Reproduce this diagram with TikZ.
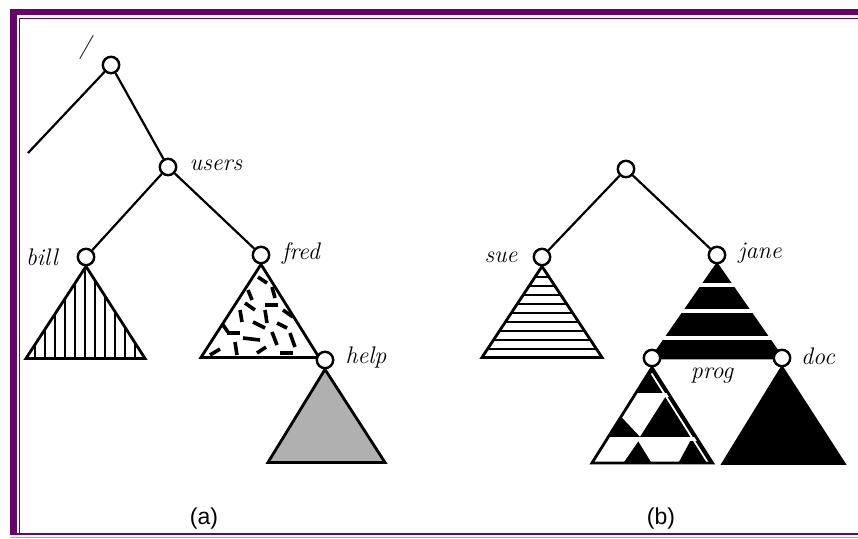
\documentclass[tikz,border=0pt]{standalone}
\usepackage{fontspec}
\newfontfamily\capfont{Liberation Sans}
\usetikzlibrary{backgrounds,calc}
\definecolor{framepurple}{RGB}{102,4,104}
\definecolor{helpgray}{RGB}{176,176,176}
\tikzset{
  % --- directory nodes and labels ---------------------------------------
  dirnode/.style ={circle, draw, fill=white, line width=1.2pt,
                   minimum size=8.2pt, inner sep=0},
  dirlab/.style  ={font=\large\itshape, inner sep=0},
  caption/.style ={font=\capfont\fontsize{11.5}{13}\selectfont, inner sep=0},
  % --- tree lines and subtrees -----------------------------------------
  link/.style    ={line width=1.1pt},
  tri/.style     ={draw, line width=1.4pt, line join=miter},
  stripe/.style  ={line width=0.9pt},
  flake/.style   ={line width=1.8pt},
  gap/.style     ={white, line width=2pt},
}

\begin{document}
\begin{tikzpicture}[x=0.5pt, y=-0.5pt]
  \useasboundingbox (0,0) rectangle (858,538);

  % ============================ frame ============================
  \fill[framepurple] (10,9) rectangle (858,15);
  \fill[framepurple] (10,9) rectangle (17,535);
  \draw[framepurple, line width=0.75pt] (19.5,533) -- (19.5,18.5) -- (858,18.5);
  \draw[framepurple, line width=1.3pt] (10,534) -- (858,534);
  \draw[framepurple!40, line width=0.5pt] (10,537.5) -- (858,537.5);

  % ============================ (a) ============================
  \node[dirnode] (root)  at (111,65)  {};
  \node[dirnode] (users) at (168,167) {};
  \node[dirnode] (bill)  at (86,257)  {};
  \node[dirnode] (fred)  at (261,255) {};
  \node[dirnode] (help)  at (325,360) {};
  \coordinate (cut) at (28,153);

  \node[dirlab] (root-l)  at (85,47)   {/};
  \node[dirlab] (users-l) at (216,165) {users};
  \node[dirlab] (bill-l)  at (42,257)  {bill};
  \node[dirlab] (fred-l)  at (301,253) {fred};
  \node[dirlab] (help-l)  at (366,357) {help};
  \node[caption] (cap-a) at (204,519) {(a)};

  \begin{scope}[on background layer]
    \draw[link] (root) -- (cut);
    \draw[link] (root) -- (users);
    \draw[link] (users) -- (bill);
    \draw[link] (users) -- (fred);

    % bill: vertical hatching
    \begin{scope}
      \clip (bill.south) -- ++(-60,92) -- ++(119,0) -- cycle;
      \foreach \x in {35,45,...,135}
        \draw[stripe] (\x,250) -- (\x,360);
    \end{scope}
    \draw[tri] (bill.south) -- ++(-60,92) -- ++(119,0) -- cycle;

    % fred: scattered dashes
    \begin{scope}
      \clip (fred.south) -- ++(-60,93) -- ++(118,0) -- cycle;
      \foreach \xa/\ya/\xb/\yb in {258/277/267/283, 248/290/252/300,
          272/287/275/298, 245/303/255/310, 265/305/278/305,
          240/310/242/322, 265/310/267/323, 283/310/293/317,
          253/322/265/328, 277/323/287/328, 223/325/228/332,
          227/333/240/333, 243/338/260/340, 272/332/277/345,
          290/333/295/347, 235/342/237/355, 210/355/220/349,
          257/353/266/347, 280/353/293/353}
        \draw[flake] (\xa,\ya) -- (\xb,\yb);
    \end{scope}
    \draw[tri] (fred.south) -- ++(-60,93) -- ++(118,0) -- cycle;

    % help: grey
    \draw[tri, fill=helpgray] (help.south) -- ++(-57,93) -- ++(117,0) -- cycle;
  \end{scope}

  % ============================ (b) ============================
  \node[dirnode] (rootb) at (626,169) {};
  \node[dirnode] (sue)   at (542,257) {};
  \node[dirnode] (jane)  at (717,255) {};
  \node[dirnode] (prog)  at (652,358) {};
  \node[dirnode] (doc)   at (782,358) {};

  \node[dirlab] (sue-l)  at (501,257) {sue};
  \node[dirlab] (jane-l) at (760,253) {jane};
  \node[dirlab] (prog-l) at (712,376) {prog};
  \node[dirlab] (doc-l)  at (818,356) {doc};
  \node[caption] (cap-b) at (661,519) {(b)};

  \begin{scope}[on background layer]
    \draw[link] (rootb) -- (sue);
    \draw[link] (rootb) -- (jane);

    % sue: horizontal hatching
    \begin{scope}
      \clip (sue.south) -- ++(-60,91) -- ++(120,0) -- cycle;
      \foreach \y in {268,277,...,349}
        \draw[stripe] (470,\y) -- (620,\y);
    \end{scope}
    \draw[tri] (sue.south) -- ++(-60,91) -- ++(120,0) -- cycle;

    % jane: black with white bands running through the outline
    \draw[tri, fill=black] (jane.south) -- (prog.center) -- (doc.center) -- cycle;
    \begin{scope}
      \clip ($(jane.south)+(0,-6)$) -- ($(prog.center)+(-5,3)$)
            -- ($(doc.center)+(5,3)$) -- cycle;
      \foreach \y in {285,310.5,338}
        \draw[gap] (640,\y) -- (800,\y);
    \end{scope}

    % prog: black/white triangular pattern
    \begin{scope}[shift={(prog.south)}]
      \begin{scope}
        \clip (0,0) -- (-60,95.5) -- (60.5,95.5) -- cycle;
        \fill (-70,-5) rectangle (70,100);
        \fill[white] (-70,25.8) rectangle (70,29.8);
        \fill[white] (-70,69.2) rectangle (70,73.8);
        \fill[white] (-40,29.8) -- (13,29.8) -- (-12,69.2) -- (-30.3,49.8)
                     -- (-40,49.8) -- cycle;
        \fill[white] (-70,73.8) -- (-13.7,73.8) -- (-29.7,97) -- (-70,97) -- cycle;
        \fill[white] (-13.7,73.8) -- (38,73.8) -- (25.5,97) -- (0.6,97) -- cycle;
        \draw[white, line width=0.9pt] (-0.5,6) -- (56,95.5);
      \end{scope}
      \draw[tri] (0,0) -- (-60,95.5) -- (60.5,95.5) -- cycle;
    \end{scope}

    % doc: black
    \draw[tri, fill=black] (doc.south) -- ++(-59,96) -- ++(121,0) -- cycle;
  \end{scope}

\end{tikzpicture}
\end{document}
